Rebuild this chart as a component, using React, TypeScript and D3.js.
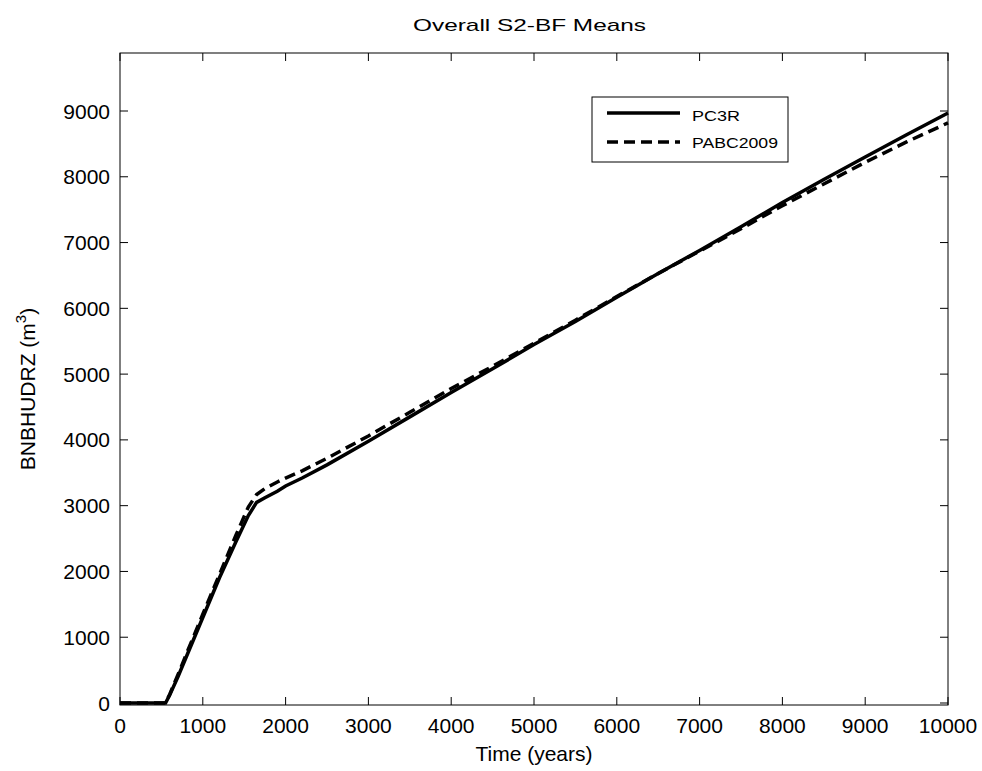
import React from "react";
import * as d3 from "d3";

const years = [0, 550, 600, 700, 800, 1000, 1200, 1400, 1550, 1650, 1750, 1900, 2000, 2200, 2500, 3000, 3500, 4000, 4500, 5000, 5500, 6000, 6500, 7000, 7500, 8000, 8500, 9000, 9500, 10000];
const pc3r = [0, 0, 120, 400, 700, 1300, 1900, 2450, 2850, 3050, 3120, 3220, 3300, 3420, 3620, 3980, 4350, 4720, 5080, 5450, 5800, 6170, 6530, 6880, 7240, 7610, 7960, 8300, 8640, 8970];
const pabc2009 = [0, 0, 130, 430, 740, 1350, 1950, 2550, 2980, 3170, 3260, 3360, 3420, 3530, 3720, 4060, 4420, 4780, 5120, 5470, 5820, 6180, 6530, 6870, 7210, 7560, 7890, 8220, 8530, 8820];
const xTicks = [0, 1000, 2000, 3000, 4000, 5000, 6000, 7000, 8000, 9000, 10000];
const yTicks = [0, 1000, 2000, 3000, 4000, 5000, 6000, 7000, 8000, 9000];
const seriesNames = ["PC3R", "PABC2009"];

export default function App() {
  const W = 982, H = 771;
  const L = 120, R = 948, T = 53, B = 705;
  const x = d3.scaleLinear().domain([0, 10000]).range([L, R]);
  const y = d3.scaleLinear().domain([0, 9000]).range([703, 111]);
  const line = d3.line<number>().x((_, i) => x(years[i])).y((d) => y(d));
  const font = "Arial, 'Liberation Sans', Helvetica, sans-serif";
  const tl = 8;
  return (
    <svg width={W} height={H} style={{ position: "absolute", left: 0, top: 0, background: "#fff" }} fontFamily={font}>
      <rect x={0} y={0} width={W} height={H} fill="#fff" />
      <text x={413} y={31} fontSize={17} textLength={233} lengthAdjust="spacingAndGlyphs">Overall S2-BF Means</text>
      {/* box */}
      <rect x={L} y={T} width={R - L} height={B - T} fill="none" stroke="#000" strokeWidth={1} />
      {xTicks.map((t) => (
        <g key={"x" + t}>
          <line x1={x(t)} x2={x(t)} y1={B} y2={B - tl} stroke="#000" />
          <line x1={x(t)} x2={x(t)} y1={T} y2={T + tl} stroke="#000" />
          <text x={x(t)} y={B + 28} textAnchor="middle" fontSize={21}>{t}</text>
        </g>
      ))}
      {yTicks.map((t) => (
        <g key={"y" + t}>
          <line x1={L} x2={L + tl} y1={y(t)} y2={y(t)} stroke="#000" />
          <line x1={R} x2={R - tl} y1={y(t)} y2={y(t)} stroke="#000" />
          <text x={L - 10} y={y(t) + 7.5} textAnchor="end" fontSize={21}>{t}</text>
        </g>
      ))}
      <text x={534} y={761} textAnchor="middle" fontSize={21}>Time (years)</text>
      <text transform={`translate(35, 389) rotate(-90)`} textAnchor="middle" fontSize={21}>
        BNBHUDRZ (m<tspan dy={-9} fontSize={15}>3</tspan><tspan dy={9}>)</tspan>
      </text>
      <path d={line(pabc2009) || ""} fill="none" stroke="#000" strokeWidth={3.5} strokeDasharray="11,6" />
      <path d={line(pc3r) || ""} fill="none" stroke="#000" strokeWidth={3.5} />
      {/* legend */}
      <rect x={592} y={97} width={196} height={65} fill="#fff" stroke="#000" strokeWidth={1} />
      <line x1={607} x2={680} y1={113} y2={113} stroke="#000" strokeWidth={3.5} />
      <line x1={607} x2={680} y1={142} y2={142} stroke="#000" strokeWidth={3.5} strokeDasharray="11,6" />
      <text x={692} y={121} fontSize={15} textLength={48} lengthAdjust="spacingAndGlyphs">{seriesNames[0]}</text>
      <text x={692} y={148} fontSize={15} textLength={86} lengthAdjust="spacingAndGlyphs">{seriesNames[1]}</text>
    </svg>
  );
}
